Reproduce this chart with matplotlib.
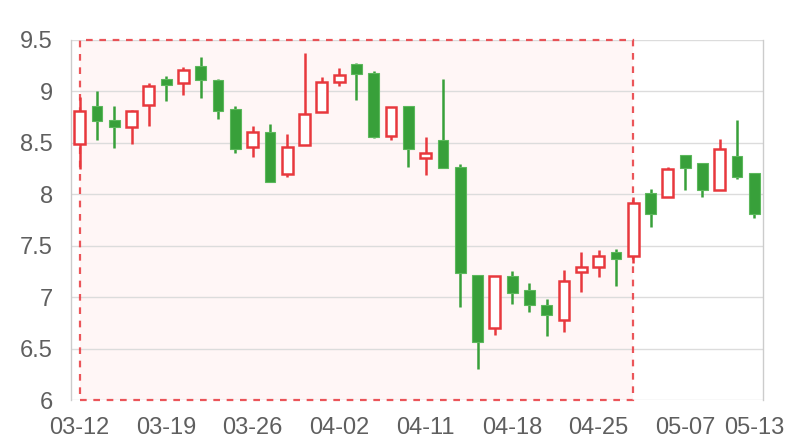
#!/usr/bin/env python3
# Candlestick chart with a highlighted (marked) range

import numpy as np
import matplotlib.pyplot as plt
from matplotlib.patches import Rectangle

plt.rcParams['font.family'] = ['Liberation Sans', 'DejaVu Sans']

dates = ['03-12', '03-13', '03-14', '03-15', '03-18', '03-19', '03-20', '03-21',
         '03-22', '03-25', '03-26', '03-27', '03-28', '03-29', '04-01', '04-02',
         '04-03', '04-04', '04-08', '04-10', '04-11', '04-12', '04-15', '04-16',
         '04-17', '04-18', '04-19', '04-22', '04-23', '04-24', '04-25', '04-26',
         '04-29', '04-30', '05-06', '05-07', '05-08', '05-09', '05-10', '05-13']

opens  = [8.49, 8.86, 8.72, 8.65, 8.87, 9.12, 9.08, 9.25, 9.11, 8.83,
          8.46, 8.61, 8.20, 8.48, 8.80, 9.09, 9.27, 9.18, 8.57, 8.86,
          8.35, 8.53, 8.27, 7.22, 6.70, 7.21, 7.07, 6.92, 6.78, 7.24,
          7.29, 7.44, 7.40, 8.01, 7.97, 8.38, 8.30, 8.04, 8.37, 8.21]
closes = [8.81, 8.71, 8.65, 8.81, 9.05, 9.06, 9.21, 9.11, 8.81, 8.44,
          8.61, 8.12, 8.46, 8.78, 9.09, 9.16, 9.17, 8.56, 8.85, 8.44,
          8.40, 8.26, 7.23, 6.56, 7.21, 7.04, 6.92, 6.83, 7.16, 7.29,
          7.40, 7.37, 7.92, 7.81, 8.25, 8.26, 8.04, 8.44, 8.17, 7.81]
lows   = [8.25, 8.53, 8.45, 8.49, 8.66, 8.91, 8.97, 8.94, 8.73, 8.40,
          8.36, 8.12, 8.17, 8.48, 8.80, 9.05, 8.92, 8.55, 8.53, 8.27,
          8.19, 8.26, 6.90, 6.30, 6.63, 6.93, 6.86, 6.62, 6.66, 7.05,
          7.20, 7.11, 7.33, 7.68, 7.97, 8.04, 7.97, 8.04, 8.15, 7.77]
highs  = [8.95, 9.00, 8.86, 8.82, 9.08, 9.15, 9.24, 9.33, 9.12, 8.86,
          8.66, 8.68, 8.59, 9.37, 9.14, 9.23, 9.28, 9.20, 8.85, 8.86,
          8.56, 9.12, 8.29, 7.22, 7.21, 7.25, 7.14, 6.98, 7.26, 7.44,
          7.46, 7.47, 7.97, 8.05, 8.27, 8.38, 8.30, 8.54, 8.72, 8.21]

# marked range (category index) and label positions
mark_start, mark_end = 0, 32
label_idx = [0, 5, 10, 15, 20, 25, 30, 35, 39]

RED = '#e8383d'
GREEN = '#38a03a'
TXT = '#5f5f5f'

fig = plt.figure(figsize=(8, 4.4), dpi=100)
ax = fig.add_axes([0.08875, 0.0909, 0.865, 0.8182])

x = np.arange(len(dates))
ax.set_xlim(-0.5, len(dates) - 0.5)
ax.set_ylim(6, 9.5)

# marked area
ax.add_patch(Rectangle((mark_start, 6), mark_end - mark_start, 3.5,
                       facecolor='#fff6f6', edgecolor='none', zorder=0))
ax.add_patch(Rectangle((mark_start, 6), mark_end - mark_start, 3.5,
                       facecolor='none', edgecolor=RED, lw=1.6, ls=(0, (3, 3)),
                       alpha=0.85, zorder=1.5, clip_on=False))

# grid
for v in np.arange(6, 9.51, 0.5):
    ax.axhline(v, color='#dcdcdc', lw=1, zorder=0.5)

w = 0.62
for i in x:
    o, c, lo, hi = opens[i], closes[i], lows[i], highs[i]
    if c >= o:
        ax.vlines(i, lo, hi, color=RED, lw=1.8, zorder=2)
        ax.bar(i, c - o, bottom=o, width=w, facecolor='white', edgecolor=RED,
               lw=1.8, zorder=3)
    else:
        ax.vlines(i, lo, hi, color=GREEN, lw=1.8, zorder=2)
        ax.bar(i, o - c, bottom=c, width=w, facecolor=GREEN, edgecolor='#5cb85c',
               lw=0.8, zorder=3)

for s in ['top', 'bottom']:
    ax.spines[s].set_visible(False)
for s in ['left', 'right']:
    ax.spines[s].set_color('#cccccc')
    ax.spines[s].set_linewidth(1)

ax.set_yticks(np.arange(6, 9.51, 0.5))
ax.set_yticklabels(['6', '6.5', '7', '7.5', '8', '8.5', '9', '9.5'])
ax.set_xticks(label_idx)
ax.set_xticklabels([dates[i] for i in label_idx])
ax.tick_params(axis='both', length=0, colors=TXT, labelsize=17)
ax.tick_params(axis='y', pad=13)
ax.tick_params(axis='x', pad=12)

fig.savefig('out.png', dpi=100)
